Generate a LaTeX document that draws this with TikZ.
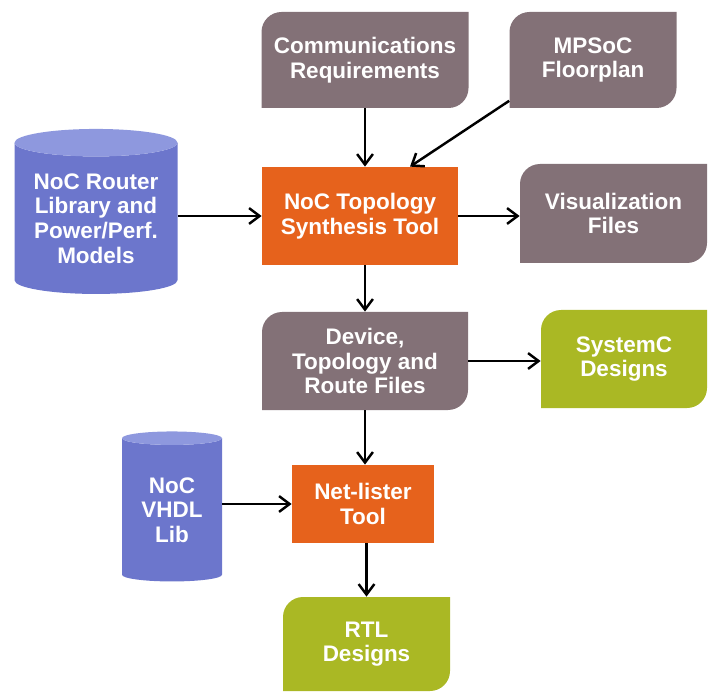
\documentclass[tikz,border=0pt]{standalone}
\usepackage{fontspec}
\setmainfont{Liberation Sans}
\usetikzlibrary{positioning,shapes.geometric,arrows.meta}

\definecolor{filegray}{RGB}{131,113,119}
\definecolor{toolorange}{RGB}{230,98,28}
\definecolor{libblue}{RGB}{108,118,204}
\definecolor{libtop}{RGB}{142,152,222}
\definecolor{outgreen}{RGB}{170,184,36}

\tikzset{
  lbl/.style={text=white, align=center, inner sep=0pt,
    font=\fontsize{12.8}{14}\selectfont\bfseries},
  % box with rounded top-left and bottom-right corners
  docbox/.style={lbl, path picture={
      \fill[#1] (path picture bounding box.south west)
        -- ([yshift=-4mm]path picture bounding box.north west)
        arc[start angle=180, end angle=90, radius=4mm]
        -- (path picture bounding box.north east)
        -- ([yshift=4mm]path picture bounding box.south east)
        arc[start angle=0, end angle=-90, radius=4mm]
        -- cycle;}},
  toolbox/.style={lbl, fill=toolorange},
  libdb/.style={lbl, cylinder, shape border rotate=90, aspect=0.22,
    cylinder uses custom fill, cylinder body fill=libblue,
    cylinder end fill=libtop},
  link/.style={-{Straight Barb[length=6pt,width=9pt]}, line width=1.4pt}
}

\begin{document}
\begin{tikzpicture}[line join=round]
	\useasboundingbox (0,0) rectangle (14.32,13.82);
	% inputs
	\node[docbox=filegray, minimum width=4.14cm, minimum height=1.92cm] (comm) at (7.30,12.62) {Communications\\Requirements};
	\node[docbox=filegray, minimum width=3.34cm, minimum height=1.92cm] (floor) at (11.86,12.62) {MPSoC\\Floorplan};
	\node[libdb, minimum width=3.26cm, minimum height=3.30cm] (router) at (1.92,9.45) {NoC Router\\Library and\\Power/Perf.\\Models};
	% synthesis
	\node[toolbox, minimum width=3.92cm, minimum height=1.96cm] (synth) at (7.20,9.50) {NoC Topology\\Synthesis Tool};
	\node[docbox=filegray, minimum width=3.74cm, minimum height=1.98cm] (vis) at (12.27,9.55) {Visualization\\Files};
	\node[docbox=filegray, minimum width=4.12cm, minimum height=1.96cm] (route) at (7.30,6.60) {Device,\\Topology and\\Route Files};
	\node[docbox=outgreen, minimum width=3.32cm, minimum height=1.96cm] (sysc) at (12.48,6.64) {SystemC\\Designs};
	% netlisting
	\node[libdb, minimum width=2.00cm, minimum height=3.00cm] (vhdl) at (3.44,3.62) {NoC\\VHDL\\Lib};
	\node[toolbox, minimum width=2.84cm, minimum height=1.56cm] (net) at (7.26,3.74) {Net-lister\\Tool};
	\node[docbox=outgreen, minimum width=3.34cm, minimum height=1.88cm] (rtl) at (7.33,0.94) {RTL\\Designs};

	\draw[link] (comm.south) -- (comm.south |- synth.north);
	\draw[link] ([yshift=0.15cm]floor.south west) -- ([xshift=1cm]synth.north);
	\draw[link] (router.east |- synth.west) -- (synth.west);
	\draw[link] (synth.east) -- (synth.east -| vis.west);
	\draw[link] (synth.south -| route.north) -- (route.north);
	\draw[link] (route.east) -- (route.east -| sysc.west);
	\draw[link] (route.south) -- (route.south |- net.north);
	\draw[link] (vhdl.east |- net.west) -- (net.west);
	\draw[link] (net.south -| rtl.north) -- (rtl.north);
\end{tikzpicture}
\end{document}
